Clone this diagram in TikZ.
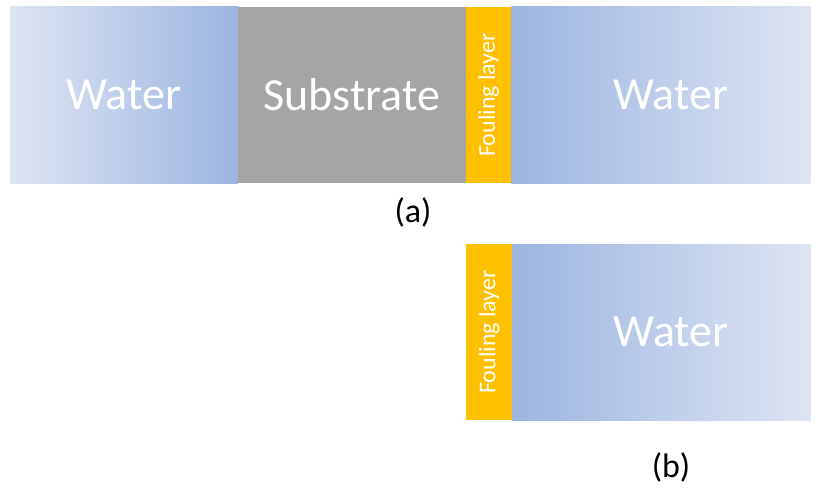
\documentclass[tikz,border=0pt]{standalone}
\usepackage{fontspec}
\setmainfont{Carlito}
\usepackage{xcolor}
\usetikzlibrary{positioning}
\definecolor{waterlight}{RGB}{222,229,243}
\definecolor{waterdark}{RGB}{157,181,225}
\definecolor{substrategrey}{RGB}{165,165,165}
\definecolor{foulingorange}{RGB}{255,192,0}

\begin{document}
\begin{tikzpicture}[x=1pt, y=-1pt, node distance=-0.6pt,
  layer/.style={rectangle, inner sep=0pt, minimum height=176pt, text=white,
    font=\fontsize{46}{50}\selectfont},
  waterin/.style={layer, minimum width=228pt, left color=waterlight, right color=waterdark},
  waterout/.style={layer, minimum width=299pt, left color=waterdark, right color=waterlight},
  substrate/.style={layer, minimum width=228pt, fill=substrategrey},
  fouling/.style={layer, minimum width=46pt, fill=foulingorange},
  foulingtext/.style={rotate=90, text=white, inner sep=0pt, font=\fontsize{24}{26}\selectfont},
  caption/.style={font=\fontsize{34}{38}\selectfont}]
  \useasboundingbox (0,0) rectangle (819,492);

  % (a) water | substrate | fouling layer | water
  \node[waterin] (WaterA) at (124,95) {Water};
  \node[substrate, right=of WaterA] (Substrate) {Substrate};
  \node[fouling, right=of Substrate] (FoulingA) {};
  \node[foulingtext] (FoulingTextA) at (FoulingA.center) {Fouling layer};
  \node[waterout, right=of FoulingA] (WaterOutA) {\hspace*{20pt}Water};
  \node[caption] (CaptionA) at (413,212) {(a)};

  % (b) fouling layer | water
  \node[fouling] (FoulingB) at (489,332) {};
  \node[foulingtext] (FoulingTextB) at (FoulingB.center) {Fouling layer};
  \node[waterout, right=of FoulingB] (WaterOutB) {\hspace*{20pt}Water};
  \node[caption] (CaptionB) at (671,467) {(b)};
\end{tikzpicture}
\end{document}
